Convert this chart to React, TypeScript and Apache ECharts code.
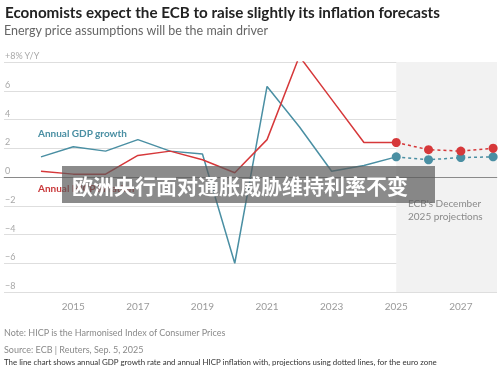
import React, { useEffect, useRef } from "react";
import * as echarts from "echarts";

const years = [2014, 2015, 2016, 2017, 2018, 2019, 2020, 2021, 2022, 2023, 2024, 2025];
const gdp = [1.4, 2.1, 1.8, 2.6, 1.8, 1.6, -6.0, 6.3, 3.5, 0.4, 0.8, 1.4];
const hicp = [0.4, 0.2, 0.2, 1.5, 1.8, 1.2, 0.3, 2.6, 8.4, 5.4, 2.4, 2.4];
const projYears = [2025, 2026, 2027, 2028];
const gdpProj = [1.4, 1.2, 1.35, 1.4];
const hicpProj = [2.4, 1.9, 1.8, 2.0];
const xTickYears = [2015, 2017, 2019, 2021, 2023, 2025, 2027];

const TEAL = "#4a8fa3";
const RED = "#d6383a";
const FONT = "Lato, 'Noto Sans', sans-serif";

export default function App() {
  const ref = useRef<HTMLDivElement>(null);
  useEffect(() => {
    if (!ref.current) return;
    const chart = echarts.init(ref.current, undefined, { renderer: "svg" });
    const pair = (xs: number[], ys: number[]) => xs.map((x, i) => [x, ys[i]]);
    chart.setOption({
      animation: false,
      textStyle: { fontFamily: FONT },
      grid: { left: 4, right: 3, top: 62, bottom: 78 },
      xAxis: {
        type: "value",
        min: 2012.855,
        max: 2028.12,
        splitLine: { show: false },
        axisLine: { show: true, lineStyle: { color: "#cfcfcf" } },
        axisTick: { show: true, customValues: xTickYears, length: 3, lineStyle: { color: "#cfcfcf" } },
        axisLabel: {
          customValues: xTickYears,
          color: "#9a9a9a",
          fontSize: 10,
          margin: 9,
          formatter: (v: number) => String(v),
        },
      },
      yAxis: {
        type: "value",
        min: -8,
        max: 8,
        interval: 2,
        axisLine: { show: false },
        axisTick: { show: false },
        splitLine: { show: true, lineStyle: { color: "#dedede", width: 1 } },
        axisLabel: {
          inside: true,
          margin: 1,
          align: "left",
          verticalAlign: "bottom",
          padding: [0, 0, 2, 0],
          color: "#a8a8a8",
          fontSize: 9,
          formatter: (v: number) => (v === 8 ? "+8% Y/Y" : v < 0 ? "\u2212" + Math.abs(v) : String(v)),
        },
      },
      series: [
        {
          type: "line",
          data: pair(years, gdp),
          symbol: "none",
          lineStyle: { color: TEAL, width: 1.5 },
          itemStyle: { color: TEAL },
          z: 3,
          markArea: {
            silent: true,
            itemStyle: { color: "#f2f2f2" },
            data: [[{ xAxis: 2025 }, { xAxis: 2028.12 }]],
          },
          markLine: {
            silent: true,
            symbol: "none",
            label: { show: false },
            lineStyle: { color: "#8a8a8a", width: 1, type: "solid" },
            data: [{ yAxis: 0 }],
          },
        },
        {
          type: "line",
          data: pair(years, hicp),
          symbol: "none",
          lineStyle: { color: RED, width: 1.5 },
          itemStyle: { color: RED },
          z: 3,
        },
        {
          type: "line",
          data: pair(projYears, gdpProj),
          symbol: "circle",
          symbolSize: 9,
          showAllSymbol: true,
          lineStyle: { color: TEAL, width: 1.5, type: [3, 3] },
          itemStyle: { color: TEAL },
          z: 4,
        },
        {
          type: "line",
          data: pair(projYears, hicpProj),
          symbol: "circle",
          symbolSize: 9,
          showAllSymbol: true,
          lineStyle: { color: RED, width: 1.5, type: [3, 3] },
          itemStyle: { color: RED },
          z: 4,
        },
      ],
      graphic: [
        {
          type: "text",
          z: 50,
          left: 5,
          top: 4,
          style: { text: "Economists expect the ECB to raise slightly its inflation forecasts", fontSize: 15.2, fontWeight: "bold", fill: "#222", fontFamily: FONT },
        },
        {
          type: "text",
          z: 50,
          left: 4,
          top: 24,
          style: { text: "Energy price assumptions will be the main driver", fontSize: 12.5, fill: "#666", fontFamily: FONT },
        },
        {
          type: "text",
          z: 50,
          left: 38,
          top: 128,
          style: { text: "Annual GDP growth", fontSize: 10, fontWeight: "bold", fill: TEAL, fontFamily: FONT },
        },
        {
          type: "text",
          z: 50,
          left: 38,
          top: 183,
          style: { text: "Annual HICP inflation", fontSize: 10, fontWeight: "bold", fill: "#c9393b", fontFamily: FONT },
        },
        {
          type: "text",
          z: 50,
          left: 408,
          top: 196,
          style: { text: "ECB's December\n2025 projections", fontSize: 10, lineHeight: 13, fill: "#8a8a8a", fontFamily: FONT },
        },
        {
          type: "text",
          z: 50,
          left: 4,
          top: 328,
          style: { text: "Note: HICP is the Harmonised Index of Consumer Prices", fontSize: 9, fill: "#8a8a8a", fontFamily: FONT },
        },
        {
          type: "text",
          z: 50,
          left: 4,
          top: 345,
          style: { text: "Source: ECB | Reuters, Sep. 5, 2025", fontSize: 9, fill: "#8a8a8a", fontFamily: FONT },
        },
        {
          type: "text",
          z: 50,
          left: 4,
          top: 358,
          style: { text: "The line chart shows annual GDP growth rate and annual HICP inflation with, projections using dotted lines, for the euro zone", fontSize: 7.9, fill: "#333", fontFamily: FONT },
        },
        {
          type: "rect",
          z: 100,
          shape: { x: 62, y: 166, width: 373, height: 37 },
          style: { fill: "rgba(90,90,90,0.7)" },
        },
        {
          type: "text",
          z: 101,
          x: 72,
          y: 185,
          style: {
            text: "欧洲央行面对通胀威胁维持利率不变",
            fontSize: 21,
            fontWeight: "bold",
            fill: "#ffffff",
            fontFamily: "'Noto Sans CJK SC', sans-serif",
            textVerticalAlign: "middle",
            verticalAlign: "middle",
          },
        },
      ],
    });
    return () => chart.dispose();
  }, []);
  return <div ref={ref} style={{ position: "fixed", left: 0, top: 0, width: 500, height: 370 }} />;
}
